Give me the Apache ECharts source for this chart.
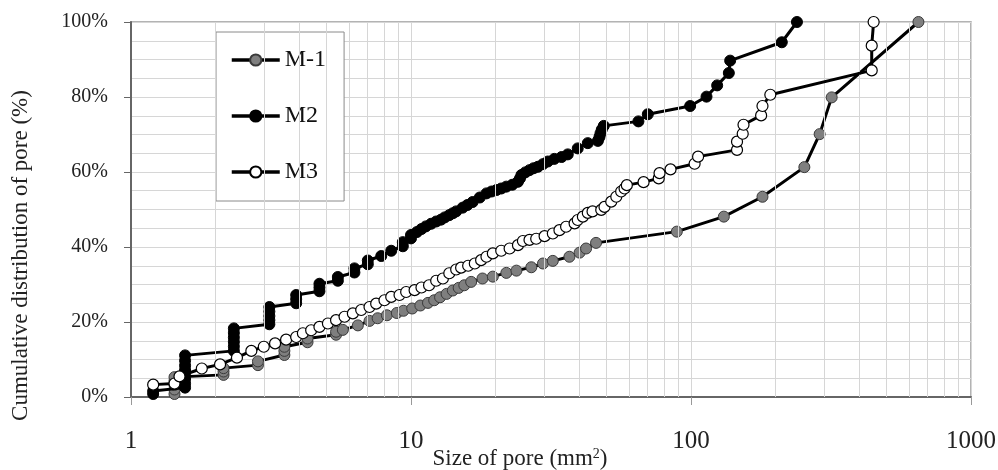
<!DOCTYPE html>
<html><head><meta charset="utf-8">
<script src="https://cdn.jsdelivr.net/npm/echarts@6/dist/echarts.min.js"></script>
<style>html,body{margin:0;padding:0;background:#fff}#c{width:998px;height:470px}</style>
</head><body><div id="c"></div>
<script>
// Pore size (mm^2) and cumulative distribution (%)
const m1Size = [1.43,1.43,1.43,1.43,1.43, 2.14,2.14,2.14, 2.84,2.84, 3.53,3.53,3.53, 4.27,4.27, 5.4,5.4,
  5.71,6.46,7.11,7.6,8.2,8.9,9.4,10.1,10.8,11.5,12.1,12.7,13.4,14.1,14.8,15.5,16.4,18.0,19.6,21.9,23.8,26.9,29.6,32.1,36.8,40.0,42.2,45.8,
  89,131,180,254,288,318,649];
const m1Cum = [0.8,2.0,3.2,4.3,5.3, 5.9,6.8,7.7, 8.5,9.5, 11.2,12.3,13.4, 14.6,15.6, 16.6,17.4,
  17.9,19.1,20.3,21.0,21.8,22.4,23.0,23.6,24.4,25.1,25.8,26.6,27.5,28.4,29.1,29.8,30.7,31.6,32.1,33.1,33.7,34.6,35.6,36.3,37.4,38.5,39.6,41.1,
  44.1,48.1,53.4,61.3,70.1,79.9,100];

const m2Size = [1.2,1.2, 1.56,1.56,1.56,1.56,1.56,1.56,1.56,1.56, 2.33,2.33,2.33,2.33,2.33,2.33, 3.12,3.12,3.12,3.12,3.12,
  3.89,3.89,3.89, 4.71,4.71,4.71, 5.48,5.48, 6.28,6.28, 7.01,7.01, 7.83, 8.5, 9.35,9.35, 10.0,10.0,
  10.5,10.9,11.3,11.8,12.3,12.8,13.2,13.7,14.1,14.5, 15.3,15.9,16.6,17.6,18.6,19.4,20.2,21.0,21.9,23.0,
  24.1,24.5,24.8,25.6,26.5,27.4,28.4,29.6,30.8,32.5, 34.5,36.3,39.4,42.8,46.5,47.1,47.5,48.0,48.8,
  64.9,70.1,99.3,113.6,124,136.5,138,211,239];
const m2Cum = [0.8,1.6, 2.5,3.6,4.8,6.0,7.2,8.4,9.7,11.1, 12.3,13.5,14.7,15.9,17.1,18.3, 19.4,20.5,21.6,22.8,24.0,
  25.0,26.1,27.2, 28.2,29.2,30.2, 31.0,32.0, 33.2,34.3, 35.4,36.4, 37.6, 39.0, 40.2,41.3, 42.3,43.2,
  44.0,44.8,45.5,46.2,46.8,47.3,47.9,48.5,49.0,49.5, 50.5,51.2,52.0,53.2,54.3,54.8,55.2,55.6,56.1,56.6,
  57.4,58.3,59.2,59.9,60.5,61.0,61.4,62.1,62.8,63.5, 64.0,64.7,66.3,67.7,68.3,69.3,70.3,71.3,72.3,
  73.5,75.4,77.6,80.1,83.1,86.4,89.7,94.6,100];

const m3Size = [1.2,1.43,1.49,1.79,2.08,2.39,2.69,2.98,3.27,3.58, 3.89,4.11,4.4,4.71,5.05,5.4,5.79,6.2,6.64,7.11,
  7.51,8.04,8.5,9.1,9.61,10.3,10.9,11.6,12.3,13.0, 13.7,14.5,15.1,16.0,16.9,17.8,18.6,19.6,21.0,22.5,
  24.1,25.1,26.5,28.0,30.0,32.1,33.9,35.8,38.4,39.4, 41.1,42.8,44.5,47.8,49.1,51.9,54.1,56.3,57.9,59.0,
  67.7,76.7,77.2,84.5,103,106,146,146,153,154, 178,180,192,442,442,449];
const m3Cum = [3.3,3.6,5.5,7.6,8.7,10.5,12.3,13.4,14.3,15.3, 16.0,17.0,17.8,18.7,19.6,20.5,21.4,22.3,23.2,24.0,
  24.9,25.8,26.7,27.2,28.0,28.5,29.2,29.8,31.0,31.6, 33.0,34.0,34.5,35.0,35.6,36.5,37.4,38.3,39.0,39.6,
  40.5,41.6,41.9,42.2,42.9,43.6,44.5,45.4,46.3,47.2, 48.1,49.1,49.5,49.9,50.7,52.1,53.4,54.8,55.6,56.5,
  57.3,58.3,59.7,60.7,62.2,64.1,65.9,68.1,70.2,72.6, 75.1,77.6,80.6,87.1,93.7,100];

const seriesNames = ['M-1','M2','M3'];
const minorGridX = [2,3,4,5,6,7,8,9,20,30,40,50,60,70,80,90,200,300,400,500,600,700,800,900];

const pairs = (xs, ys) => xs.map((x, i) => [x, ys[i]]);
const FONT = 'Liberation Serif';
const GRID = '#d6d6d6';

const chart = echarts.init(document.getElementById('c'), null, {renderer: 'canvas'});
chart.setOption({
  animation: false,
  backgroundColor: '#fff',
  grid: {left: 131, right: 27, top: 22, bottom: 73, containLabel: false, outerBoundsMode: 'none',
    show: true, borderColor: '#9a9a9a', borderWidth: 1.5, backgroundColor: 'transparent'},
  legend: {
    data: seriesNames, orient: 'vertical', left: 216, top: 32,
    padding: [16, 18, 17, 14], itemGap: 32, itemWidth: 48, itemHeight: 14,
    borderColor: '#8a8a8a', borderWidth: 1, backgroundColor: '#fff',
    lineStyle: {width: 3.5, color: '#000'},
    textStyle: {fontFamily: FONT, fontSize: 24, color: '#111', lineHeight: 24}
  },
  xAxis: {
    type: 'log', logBase: 10, min: 1, max: 1000,
    axisLine: {show: true, lineStyle: {color: '#666', width: 2}},
    axisTick: {show: true, length: 8, lineStyle: {color: '#999'}},
    axisLabel: {margin: 32, fontFamily: FONT, fontSize: 25, color: '#222', formatter: v => String(Math.round(v))},
    splitLine: {show: true, lineStyle: {color: GRID, width: 1}},
    name: '{a|Size of pore (mm}{s|2}{a|)}', nameLocation: 'middle', nameGap: 50, nameMoveOverlap: false,
    nameTextStyle: {padding: [0, 62, 0, 0], rich: {
      a: {fontFamily: FONT, fontSize: 23, color: '#222', lineHeight: 24},
      s: {fontFamily: FONT, fontSize: 14, color: '#222', lineHeight: 14, verticalAlign: 'top'}
    }}
  },
  yAxis: {
    type: 'value', min: 0, max: 100, interval: 20,
    axisLine: {show: true, lineStyle: {color: '#666', width: 2}},
    axisTick: {show: true, length: 7, lineStyle: {color: '#666'}},
    axisLabel: {margin: 23, fontFamily: FONT, fontSize: 20, color: '#222', formatter: v => v + '%'},
    splitLine: {show: true, lineStyle: {color: GRID, width: 1}},
    minorTick: {show: false, splitNumber: 4},
    minorSplitLine: {show: true, lineStyle: {color: GRID, width: 1}},
    name: 'Cumulative distribution of pore (%)', nameLocation: 'middle', nameGap: 99,
    nameTextStyle: {fontFamily: FONT, fontSize: 23, color: '#222', padding: [0, 92, 0, 0]}
  },
  series: [
    {
      name: 'minor-grid', type: 'line', data: [], silent: true, z: 1,
      markLine: {silent: true, symbol: ['none', 'none'], label: {show: false}, animation: false,
        lineStyle: {color: GRID, width: 1, type: 'solid'}, emphasis: {disabled: true},
        data: minorGridX.map(v => ({xAxis: v}))}
    },
    {
      name: 'M-1', type: 'line', data: pairs(m1Size, m1Cum), symbol: 'circle', symbolSize: 11, z: 3,
      lineStyle: {color: '#000', width: 3},
      itemStyle: {color: '#7f7f7f', borderColor: '#3a3a3a', borderWidth: 1},
      emphasis: {disabled: true}
    },
    {
      name: 'M2', type: 'line', data: pairs(m2Size, m2Cum), symbol: 'circle', symbolSize: 11, z: 4,
      lineStyle: {color: '#000', width: 3},
      itemStyle: {color: '#000', borderColor: '#000', borderWidth: 1},
      emphasis: {disabled: true}
    },
    {
      name: 'M3', type: 'line', data: pairs(m3Size, m3Cum), symbol: 'circle', symbolSize: 11, z: 5,
      lineStyle: {color: '#000', width: 3},
      itemStyle: {color: '#fff', borderColor: '#000', borderWidth: 1.2},
      emphasis: {disabled: true}
    }
  ]
});
</script></body></html>
